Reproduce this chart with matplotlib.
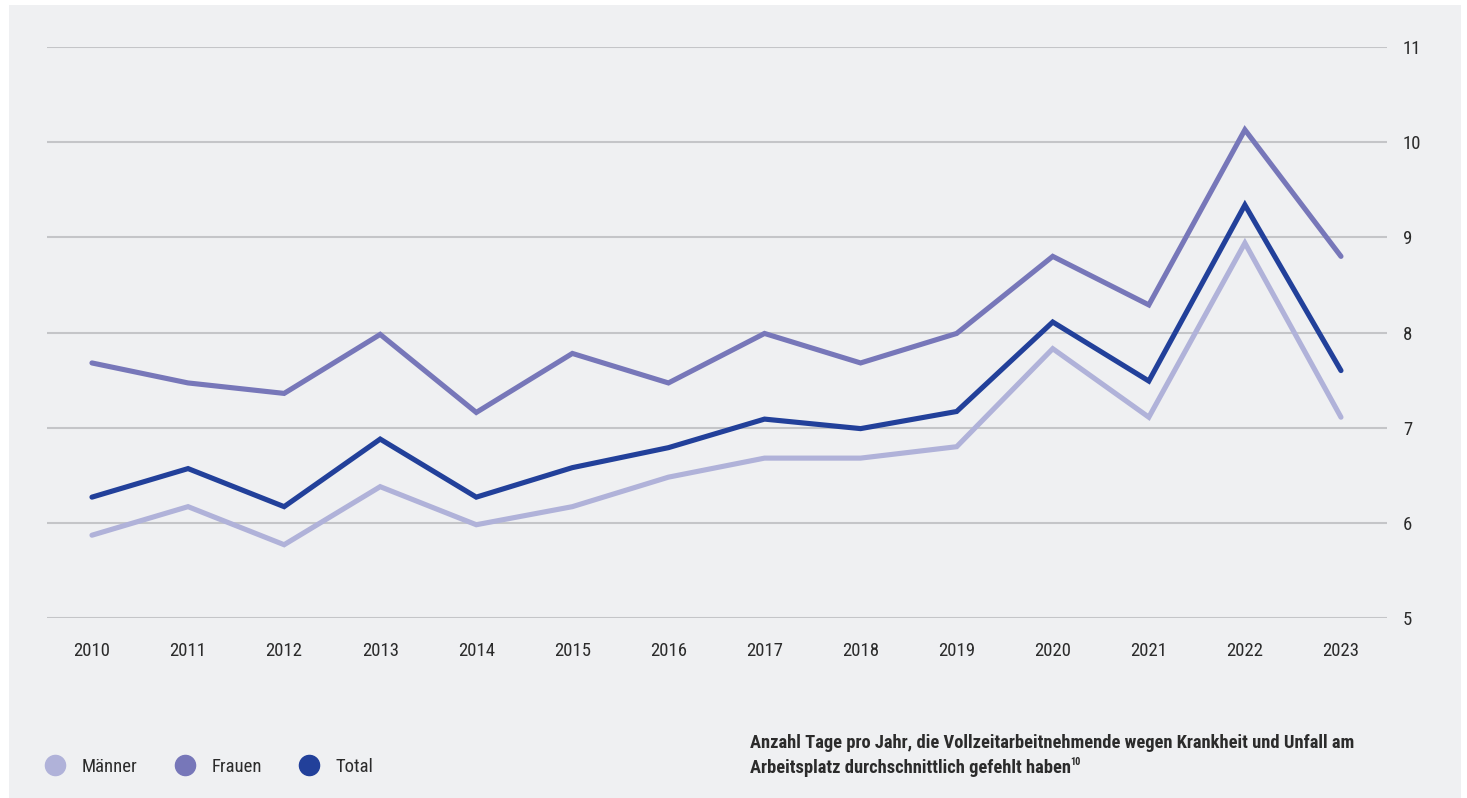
import matplotlib
matplotlib.use("Agg")
import matplotlib.pyplot as plt
from matplotlib.patches import Rectangle
from matplotlib.lines import Line2D

plt.rcParams['font.family'] = ['Roboto Condensed', 'Liberation Sans Narrow', 'Roboto', 'DejaVu Sans']

years = list(range(2010, 2024))
maenner = [5.87, 6.17, 5.77, 6.38, 5.98, 6.17, 6.48, 6.68, 6.68, 6.80, 7.83, 7.11, 8.94, 7.11]
frauen = [7.68, 7.47, 7.36, 7.98, 7.16, 7.78, 7.47, 7.99, 7.68, 7.99, 8.80, 8.29, 10.13, 8.80]
total = [6.27, 6.57, 6.17, 6.88, 6.27, 6.58, 6.79, 7.09, 6.99, 7.17, 8.11, 7.49, 9.34, 7.60]
y_ticks = [5, 6, 7, 8, 9, 10, 11]

series = [
    ("Männer", maenner, "#b0b2d9"),
    ("Frauen", frauen, "#7777b9"),
    ("Total", total, "#22409a"),
]
legend_x = [44, 174, 298]  # left edge of each legend entry, px

bg = "#eff0f2"
txt = "#2b2b2b"
W, H = 1467, 798
fig = plt.figure(figsize=(W / 100, H / 100), dpi=100)
fig.patch.set_facecolor("white")
fig.patches.append(Rectangle((9 / W, 0), (1461 - 9) / W, 1 - 5 / H,
                             transform=fig.transFigure, facecolor=bg,
                             edgecolor="none", zorder=-10))

ax = fig.add_axes([47 / W, 1 - 618 / H, (1387 - 47) / W, (618 - 47) / H])
ax.set_facecolor("none")
for name, vals, col in series:
    ax.plot(years, vals, color=col, lw=3.7, solid_joinstyle="miter",
            solid_capstyle="round", zorder=3)

ax.set_xlim(2009.532, 2023.479)
ax.set_ylim(5, 11)
ax.set_yticks(y_ticks)
ax.set_xticks(years)
ax.yaxis.tick_right()
ax.grid(axis="y", color="#c4c5c8", lw=1.5)
ax.tick_params(length=0, labelsize=13.5, colors=txt)
ax.tick_params(axis="y", pad=11.5)
ax.tick_params(axis="x", pad=17)
for s in ax.spines.values():
    s.set_visible(False)

# one legend per entry so the uneven spacing of the original is kept
for (name, _, col), lx in zip(series, legend_x):
    h = Line2D([], [], ls="none", marker="o", ms=14.5, color=col, mec=col)
    fig.legend([h], [name], loc="center left",
               bbox_to_anchor=(lx / W, 1 - 767 / H), frameon=False,
               fontsize=13.5, handletextpad=0.8, labelcolor=txt,
               borderaxespad=0, handlelength=1.2, borderpad=0)

fig.text(750 / W, 1 - 743 / H,
         "Anzahl Tage pro Jahr, die Vollzeitarbeitnehmende wegen Krankheit und Unfall am",
         fontsize=13.3, fontweight="bold", color=txt, va="center")
t = fig.text(750 / W, 1 - 768 / H,
             "Arbeitsplatz durchschnittlich gefehlt haben",
             fontsize=13.3, fontweight="bold", color=txt, va="center")
fig.canvas.draw()
bb = t.get_window_extent()
fig.text((bb.x1 - 1) / W, 1 - 762 / H, "10", fontsize=7.5,
         fontweight="bold", color=txt, va="center")

fig.savefig("out.png", dpi=100)
